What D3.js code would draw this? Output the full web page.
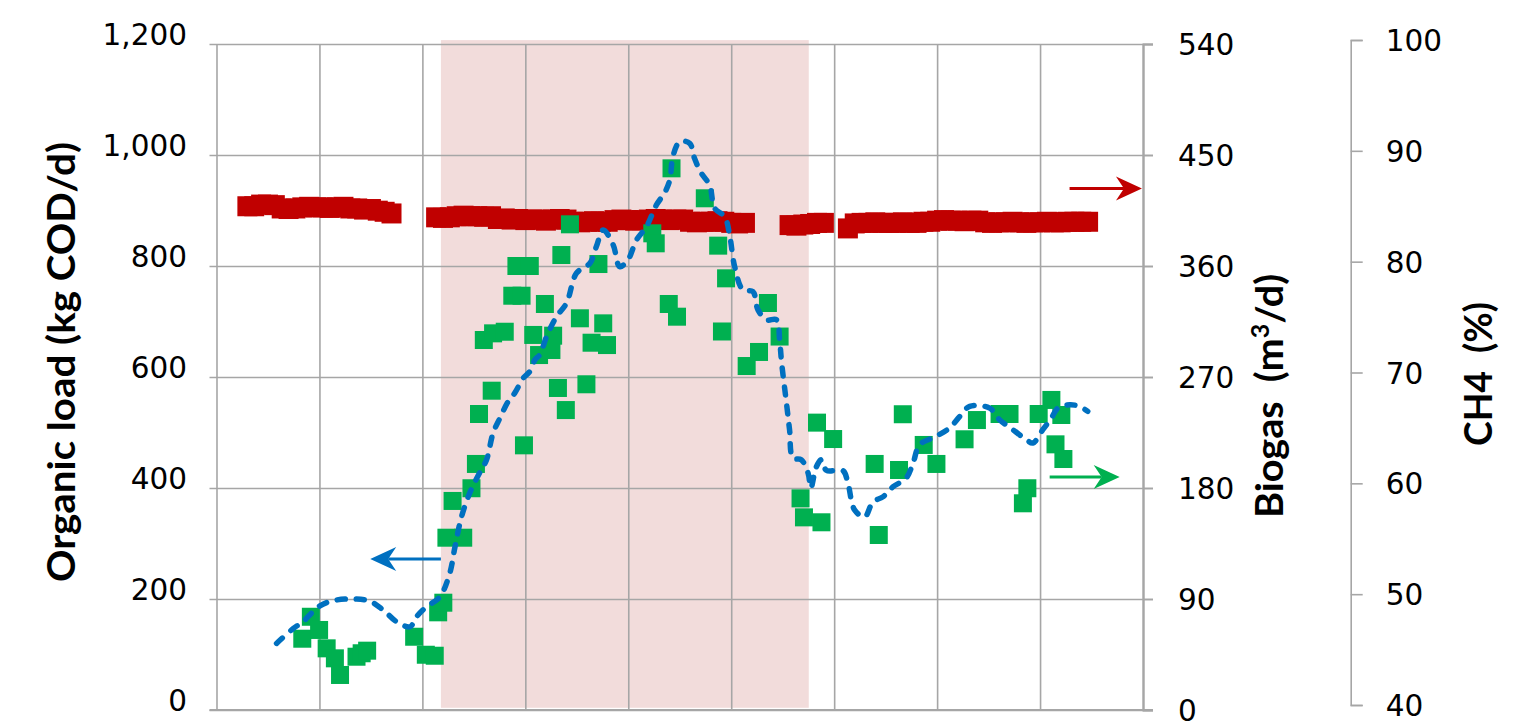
<!DOCTYPE html>
<html>
<head>
<meta charset="utf-8">
<script src="https://cdn.jsdelivr.net/npm/d3@7"></script>
<style>
  html, body { margin: 0; padding: 0; background: #fff; }
  svg { display: block; }
  .tick text { font-family: "DejaVu Sans", sans-serif; font-size: 29.5px; fill: #000; }
  .title { font-family: Lato, "Open Sans", sans-serif; font-weight: 700; font-size: 38px; fill: #000; white-space: pre; }
</style>
</head>
<body>
<svg id="chart" width="1531" height="722"></svg>
<script>
// ---- Tick values ----
const dayTicks  = [0, 30, 60, 90, 120, 150, 180, 210, 240, 270];
const loadTicks = [0, 200, 400, 600, 800, 1000, 1200];
const gasTicks  = [0, 90, 180, 270, 360, 450, 540];
const ch4Ticks  = [40, 50, 60, 70, 80, 90, 100];

// ---- Shaded period (days) ----
const shadeStart = 65.4;
const shadeEnd   = 172.6;

// ---- CH4 content (%) ----
const ch4Day = [9, 11, 13, 15, 17, 19, 21, 23, 25, 27, 29, 31, 33, 35, 37, 39, 41, 43, 45, 47, 49, 51,
  64, 66, 68, 70, 72, 74, 76, 78, 80, 82, 84, 86, 88, 90, 92, 94, 96, 98, 100, 102, 104, 106, 108, 110,
  112, 114, 116, 118, 120, 122, 124, 126, 128, 130, 132, 134, 136, 138, 140, 142, 144, 146, 148, 150, 152, 154,
  167, 169, 171, 173, 175, 177,
  184, 186, 188, 190, 192, 194, 196, 198, 200, 202, 204, 206, 208, 210, 212, 214, 216, 218, 220, 222,
  224, 226, 228, 230, 232, 234, 236, 238, 240, 242, 244, 246, 248, 250, 252, 254];
const ch4Pct = [85.0, 85.0, 85.15, 85.15, 85.1, 84.8, 84.75, 84.8, 84.9, 84.95, 84.9, 84.9, 84.85, 84.9, 84.95, 84.8, 84.8, 84.7, 84.75, 84.6, 84.5, 84.35,
  84.0, 83.95, 84.0, 84.1, 84.15, 84.1, 84.1, 84.05, 84.1, 83.85, 83.9, 83.8, 83.85, 83.75, 83.8, 83.8, 83.7, 83.8, 83.85, 83.8, 83.6, 83.55, 83.6, 83.65,
  83.6, 83.6, 83.75, 83.8, 83.75, 83.7, 83.75, 83.8, 83.85, 83.8, 83.75, 83.8, 83.8, 83.6, 83.55, 83.6, 83.6, 83.65, 83.6, 83.5, 83.45, 83.5,
  83.3, 83.25, 83.35, 83.4, 83.5, 83.5,
  83.0, 83.45, 83.5, 83.5, 83.55, 83.5, 83.5, 83.5, 83.55, 83.5, 83.5, 83.6, 83.6, 83.7, 83.75, 83.7, 83.7, 83.65, 83.7, 83.7,
  83.55, 83.5, 83.55, 83.55, 83.6, 83.55, 83.5, 83.55, 83.55, 83.6, 83.55, 83.55, 83.6, 83.6, 83.6, 83.6];

// ---- Biogas production (m3/d) ----
const biogasDay = [25.0, 27.5, 29.9, 32.1, 34.5, 36.0, 40.8, 42.3, 43.9,
  57.6, 61.0, 63.6, 64.6, 66.1, 67.0, 68.8, 71.9, 74.3, 75.6,
  76.5, 77.9, 80.2, 80.6, 84.0, 86.2, 87.4, 88.9, 89.6, 91.3,
  92.3, 94.0, 95.7, 97.6, 98.1, 99.5, 100.5, 101.8, 103.0, 105.9,
  107.8, 109.3, 111.3, 112.7, 113.8, 127.0, 128.0, 131.8, 132.6, 134.2,
  142.3, 146.2, 147.3, 148.5, 154.5, 158.1, 160.7, 164.1, 170.2, 171.2,
  175.0, 176.3, 179.7, 191.8, 193.0, 198.9, 200.0, 206.1, 209.8, 218.0,
  221.6, 228.2, 231.1, 235.0, 236.3, 239.6, 243.3, 244.5, 246.2, 246.8];
const biogasFlow = [57.8, 75.6, 64.9, 50.0, 41.9, 28.4, 43.2, 46.0, 48.1,
  59.4, 44.8, 44.0, 79.2, 87.0, 139.7, 169.5, 139.7, 179.8, 199.5,
  240.0, 300.0, 258.9, 305.4, 306.7, 335.9, 360.0, 335.9, 214.6, 360.0,
  304.1, 287.8, 329.2, 291.9, 303.5, 261.1, 368.9, 243.2, 393.8, 317.6,
  264.1, 297.8, 361.6, 313.5, 295.9, 386.5, 378.4, 329.2, 439.2, 318.9,
  414.9, 376.5, 306.9, 350.0, 278.9, 290.3, 330.0, 302.8, 171.6, 156.2,
  233.0, 152.2, 219.7, 199.5, 141.9, 194.6, 239.8, 214.9, 199.5, 219.5,
  235.1, 240.0, 240.0, 167.6, 179.8, 240.0, 251.4, 215.4, 239.2, 203.5];

// ---- Organic load (kg COD/d) ----
const loadDay = [17.5, 22.4, 25.2, 29.7, 34.0, 39.8, 44.7, 48.6, 52.5, 56.4,
  58.3, 61.2, 65.1, 68.0, 69.5, 71.4, 73.8, 76.3, 78.7, 80.6,
  82.6, 85.0, 86.9, 89.4, 91.3, 92.8, 94.2, 96.2, 99.1, 102.0,
  104.9, 108.8, 110.7, 112.7, 115.6, 117.5, 119.9, 122.4, 125.3, 128.2,
  130.6, 132.1, 133.0, 135.0, 137.9, 139.3, 141.3, 143.7, 145.2, 148.1,
  149.6, 151.0, 153.4, 156.3, 157.8, 160.3, 163.2, 164.1, 164.7, 166.1,
  167.0, 168.0, 170.4, 172.4, 173.2, 174.8, 176.3, 177.7, 182.6, 184.0,
  186.0, 188.9, 191.3, 194.2, 197.1, 201.0, 203.0, 204.9, 209.3, 213.6,
  216.6, 219.5, 225.3, 228.2, 232.1, 236.0, 237.9, 240.8, 243.3, 245.2,
  248.6, 251.5, 253.9];
const loadCod = [120, 147, 159, 186, 197, 200, 196, 180, 159, 150,
  168, 186, 204, 247, 294, 348, 391, 423, 451, 499,
  526, 556, 571, 598, 610, 631, 640, 673, 709, 733,
  787, 805, 835, 865, 838, 799, 811, 847, 871, 910,
  932, 955, 997, 1024, 1021, 994, 967, 946, 904, 889,
  853, 799, 757, 754, 721, 703, 703, 667, 625, 553,
  505, 454, 451, 427, 400, 438, 451, 432, 431, 409,
  360, 348, 375, 384, 402, 418, 445, 478, 492, 508,
  529, 547, 544, 523, 505, 487, 481, 505, 526, 544,
  550, 547, 538];

// ---- Direction arrows: which axis each series reads from ----
const arrowAxis  = ["load", "ch4", "gas"];
const arrowFrom  = [65.4, 248.6, 242.8];
const arrowTo    = [44.8, 269.7, 263.2];
const arrowValue = [272, 86.6, 188.9];

// ---- Colours ----
const cLoad = "#0070c0", cGas = "#00b050", cCh4 = "#c00000";
const cShade = "#f2dcdb", cGrid = "#a6a6a6";

const svg = d3.select("#chart");

// Scales
const x    = d3.scaleLinear().domain([0, 270]).range([216.5, 1143]);
const yLoad = d3.scaleLinear().domain([0, 1200]).range([710, 44]);
const yGas  = d3.scaleLinear().domain([0, 540]).range([710, 44]);
const yCh4  = d3.scaleLinear().domain([40, 100]).range([705, 40]);
const yOf = { load: yLoad, gas: yGas, ch4: yCh4 };
const colOf = { load: cLoad, gas: cGas, ch4: cCh4 };

const xL = x.range()[0], xR = x.range()[1];

// Shaded period
svg.append("rect")
  .attr("x", x(shadeStart))
  .attr("width", x(shadeEnd) - x(shadeStart))
  .attr("y", yLoad(1207))
  .attr("height", yLoad(4) - yLoad(1207))
  .attr("fill", cShade);

// Horizontal gridlines (extend as small ticks past both plot edges)
svg.append("g")
  .attr("transform", `translate(${xR + 10},0)`)
  .call(d3.axisLeft(yLoad).tickValues(loadTicks).tickSize((xR + 10) - (xL - 7)).tickFormat(""))
  .call(g => g.select(".domain").remove())
  .selectAll("line").attr("stroke", cGrid).attr("stroke-width", 1.6);

// Vertical gridlines
svg.append("g")
  .attr("transform", `translate(0,${yLoad(0)})`)
  .call(d3.axisBottom(x).tickValues(dayTicks).tickSize(-(yLoad(0) - yLoad(1200))).tickFormat(""))
  .call(g => g.select(".domain").remove())
  .selectAll("line").attr("stroke", cGrid).attr("stroke-width", 1.6);

// Bottom axis line
svg.append("line")
  .attr("x1", xL - 7).attr("x2", xR + 10)
  .attr("y1", yLoad(0)).attr("y2", yLoad(0))
  .attr("stroke", cGrid).attr("stroke-width", 1.8);

// Left axis labels (organic load)
svg.append("g")
  .attr("transform", `translate(${xL},0)`)
  .call(d3.axisLeft(yLoad).tickValues(loadTicks).tickSize(0).tickPadding(29.5).tickFormat(d3.format(",")))
  .call(g => g.select(".domain").remove())
  .selectAll("text").attr("dy", "0");

// Right axis (biogas)
const gGas = svg.append("g")
  .attr("transform", `translate(${xR},0)`)
  .call(d3.axisRight(yGas).tickValues(gasTicks).tickSize(10).tickSizeOuter(10).tickPadding(25));
gGas.select(".domain").attr("stroke", cGrid).attr("stroke-width", 2.2);
gGas.selectAll("line").attr("stroke", cGrid).attr("stroke-width", 1.6);
gGas.selectAll("text").attr("dy", "0.36em");

// Outer right axis (CH4)
const gCh4 = svg.append("g")
  .attr("transform", "translate(1350.7,0)")
  .call(d3.axisRight(yCh4).tickValues(ch4Ticks).tickSize(12).tickSizeOuter(12).tickPadding(23));
gCh4.select(".domain").attr("stroke", cGrid).attr("stroke-width", 1.6);
gCh4.selectAll("line").attr("stroke", cGrid).attr("stroke-width", 1.6);
gCh4.selectAll("text").attr("dy", "0.36em");

// CH4 markers
const sR = 20;
svg.append("g").selectAll("rect")
  .data(ch4Day.map((d, i) => [d, ch4Pct[i]]))
  .join("rect")
  .attr("x", d => x(d[0]) - sR / 2).attr("y", d => yCh4(d[1]) - sR / 2)
  .attr("width", sR).attr("height", sR)
  .attr("fill", cCh4);

// Biogas markers
const sG = 18;
svg.append("g").selectAll("rect")
  .data(biogasDay.map((d, i) => [d, biogasFlow[i]]))
  .join("rect")
  .attr("x", d => x(d[0]) - sG / 2).attr("y", d => yGas(d[1]) - sG / 2)
  .attr("width", sG).attr("height", sG)
  .attr("fill", cGas);

// Organic load (smoothed dashed line)
const line = d3.line()
  .x(d => x(d[0])).y(d => yLoad(d[1]))
  .curve(d3.curveCatmullRom.alpha(0.5));
svg.append("path")
  .datum(loadDay.map((d, i) => [d, loadCod[i]]))
  .attr("d", line)
  .attr("fill", "none")
  .attr("stroke", cLoad)
  .attr("stroke-width", 5.5)
  .attr("stroke-linecap", "round")
  .attr("stroke-dasharray", "8 11");

// Arrows pointing to each series' axis
arrowAxis.forEach((ax, i) => {
  const y = yOf[ax](arrowValue[i]);
  const x0 = x(arrowFrom[i]), x1 = x(arrowTo[i]);
  const dir = Math.sign(x1 - x0);
  const L = 26, h = 12, n = 8;
  const col = colOf[ax];
  svg.append("line")
    .attr("x1", x0).attr("x2", x1 - dir * (L - n))
    .attr("y1", y).attr("y2", y)
    .attr("stroke", col).attr("stroke-width", 3);
  svg.append("path")
    .attr("d", `M${x1},${y} L${x1 - dir * L},${y - h} L${x1 - dir * (L - n)},${y} L${x1 - dir * L},${y + h} Z`)
    .attr("fill", col);
});

// Axis titles
svg.append("text").attr("class", "title")
  .attr("transform", "translate(75,362) rotate(-90)")
  .attr("text-anchor", "middle")
  .attr("textLength", 440).attr("lengthAdjust", "spacingAndGlyphs")
  .text("Organic load (kg COD/d)");

const tGas = svg.append("text").attr("class", "title")
  .attr("transform", "translate(1283,396) rotate(-90)")
  .attr("text-anchor", "middle")
  .attr("textLength", 244).attr("lengthAdjust", "spacingAndGlyphs");
tGas.append("tspan").text("Biogas  (m");
tGas.append("tspan").attr("font-size", 24).attr("dy", -14).text("3");
tGas.append("tspan").attr("dy", 14).text("/d)");

svg.append("text").attr("class", "title")
  .attr("transform", "translate(1491.5,374) rotate(-90)")
  .attr("text-anchor", "middle")
  .attr("textLength", 144).attr("lengthAdjust", "spacingAndGlyphs")
  .text("CH4  (%)");
</script>
</body>
</html>
